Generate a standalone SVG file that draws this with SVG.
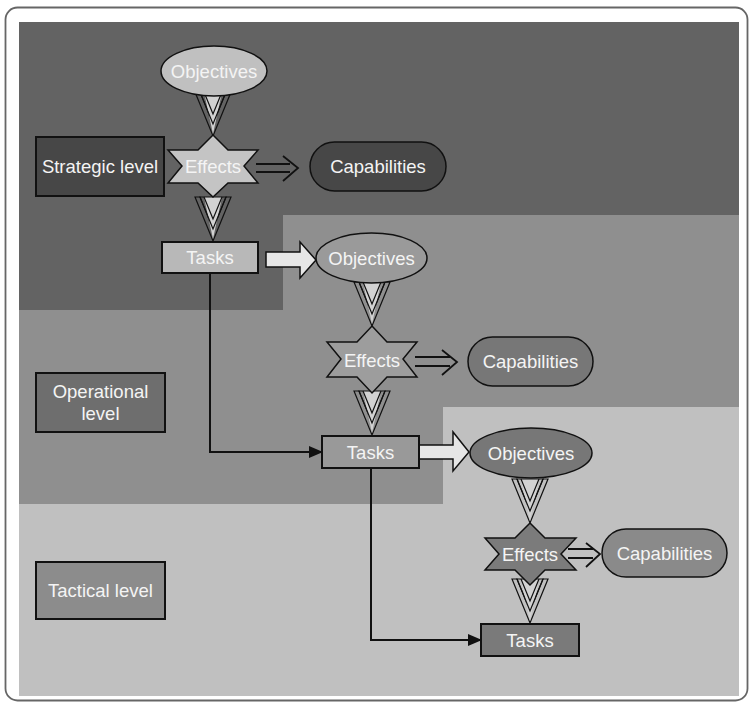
<svg xmlns="http://www.w3.org/2000/svg" width="752" height="708" viewBox="0 0 752 708">
<style>
text{font-family:"Liberation Sans",Arial,sans-serif;font-size:18.5px;fill:#f4f4f4;text-anchor:middle;dominant-baseline:central}
.b{stroke:#111;stroke-width:2}
.s{stroke:#111;stroke-width:1.5}
.ln{stroke:#111;stroke-width:2;fill:none}
.dl{stroke:#111;stroke-width:1.8;fill:none}
.blk{fill:#e6e6e6;stroke:#111;stroke-width:1.5}
</style>
<defs>
<g id="chev">
<polygon points="-18,-44 0,0 18,-44 13,-44 0,-12 -13,-44" fill="none" stroke="#111" stroke-width="1.2"/>
<polygon points="-9,-44 0,-2 9,-44" fill="#d2d2d2" stroke="none"/>
<polyline points="-9,-44 0,-22 9,-44" fill="none" stroke="#111" stroke-width="1.2"/>
<polygon points="-13,-44 0,-12 13,-44" fill="none" stroke="#111" stroke-width="1.2"/>
</g>
<marker id="ah" markerWidth="14" markerHeight="12" refX="13" refY="6" orient="auto" markerUnits="userSpaceOnUse">
<polygon points="0,0 14,6 0,12" fill="#111"/>
</marker>
</defs>
<rect x="0" y="0" width="752" height="708" fill="#fff"/>
<rect x="5.5" y="7.5" width="742" height="693" rx="12" fill="#fff" stroke="#666" stroke-width="1.8"/>
<g id="bands">
<rect x="19" y="22" width="720" height="674" fill="#c0c0c0"/>
<polygon points="19,22 739,22 739,407 443,407 443,504 19,504" fill="#8f8f8f"/>
<polygon points="19,22 739,22 739,215 283,215 283,310 19,310" fill="#636363"/>
</g>
<g id="connectors">
<use href="#chev" transform="translate(213,136)"/>
<use href="#chev" transform="translate(213,241)"/>
<use href="#chev" transform="translate(372,326)"/>
<use href="#chev" transform="translate(372,435)"/>
<use href="#chev" transform="translate(530,523)"/>
<use href="#chev" transform="translate(530,623)"/>
<path class="dl" d="M256,164H290M256,172H290M283,156L298,168L283,181"/>
<path class="dl" d="M415,357H450M415,366H450M442,350L457,362L442,375"/>
<path class="dl" d="M568,549H593M568,558H593M586,543L600,554L586,567"/>
<polygon class="blk" points="266,252 300,252 300,242 316,260 300,278 300,267 266,267"/>
<polygon class="blk" points="419,445 453,445 453,432 469,452 453,471 453,459 419,459"/>
<path class="ln" d="M210,273V452H322" marker-end="url(#ah)"/>
<path class="ln" d="M371,468V640H481" marker-end="url(#ah)"/>
</g>
<g id="strategic-level"><rect class="b" x="36" y="137" width="128" height="59" fill="#474747"/><text x="100" y="166">Strategic level</text></g>
<g id="operational-level"><rect class="b" x="36" y="373" width="129" height="59" fill="#6e6e6e"/><text x="100.5" y="391">Operational</text><text x="100.5" y="413">level</text></g>
<g id="tactical-level"><rect class="b" x="36" y="562" width="129" height="57" fill="#8c8c8c"/><text x="100.5" y="590">Tactical level</text></g>
<g id="s-objectives"><ellipse class="s" cx="214" cy="71" rx="53" ry="25" fill="#c0c0c0"/><text x="214" y="71">Objectives</text></g>
<g id="s-effects"><polygon class="s" points="213,135 228,150 258,150 244,166 258,183 228,183 213,197 198,183 168,183 182,166 168,150 198,150" fill="#c4c4c4"/><text x="213" y="166">Effects</text></g>
<g id="s-capabilities"><rect class="s" x="310" y="142" width="136" height="49" rx="24.5" fill="#474747"/><text x="378" y="166.5">Capabilities</text></g>
<g id="s-tasks"><rect class="b" x="162" y="242" width="96" height="31" fill="#b8b8b8"/><text x="210" y="257.5">Tasks</text></g>
<g id="o-objectives"><ellipse class="s" cx="371.5" cy="258" rx="55.5" ry="25" fill="#9a9a9a"/><text x="371.5" y="258">Objectives</text></g>
<g id="o-effects"><polygon class="s" points="372,326 387,342 417,342 403,359 417,377 387,377 372,393 357,377 327,377 341,359 327,342 357,342" fill="#9d9d9d"/><text x="372" y="360">Effects</text></g>
<g id="o-capabilities"><rect class="s" x="468" y="337" width="125" height="49" rx="24.5" fill="#777"/><text x="530.5" y="361.5">Capabilities</text></g>
<g id="o-tasks"><rect class="b" x="322" y="436" width="97" height="32" fill="#999"/><text x="370.5" y="452">Tasks</text></g>
<g id="t-objectives"><ellipse class="s" cx="531" cy="453" rx="61" ry="25" fill="#777"/><text x="531" y="453">Objectives</text></g>
<g id="t-effects"><polygon class="s" points="530,523 545,538 576,538 561,554 576,570 545,570 530,585 515,570 485,570 499,554 485,538 515,538" fill="#7b7b7b"/><text x="530" y="554">Effects</text></g>
<g id="t-capabilities"><rect class="s" x="602" y="529" width="125" height="48" rx="24" fill="#8a8a8a"/><text x="664.5" y="553">Capabilities</text></g>
<g id="t-tasks"><rect class="b" x="481" y="624" width="98" height="32" fill="#7a7a7a"/><text x="530" y="640">Tasks</text></g>
</svg>
